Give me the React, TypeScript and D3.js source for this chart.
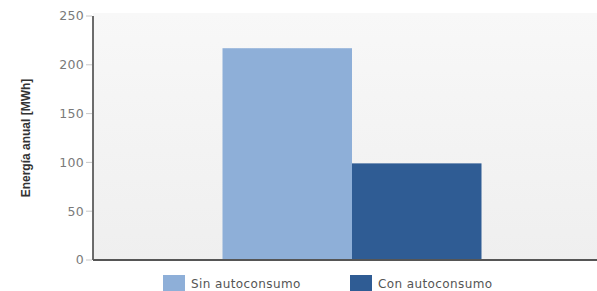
import { useRef, useEffect } from "react";
import * as d3 from "d3";

const categories = ["Energía"];
const seriesNames = ["Sin autoconsumo", "Con autoconsumo"];
const seriesValues = [217, 99];
const seriesColors = ["#8eafd8", "#2f5c94"];
const yTicks = [0, 50, 100, 150, 200, 250];

export default function App() {
  const ref = useRef<SVGSVGElement>(null);

  useEffect(() => {
    if (!ref.current) return;
    const svg = d3.select(ref.current);
    svg.selectAll("*").remove();

    const W = 597;
    const left = 93,
      right = 611,
      top = 16,
      bottom = 260;

    const y = d3.scaleLinear().domain([0, 250]).range([bottom, top]);
    const x0 = d3
      .scaleBand()
      .domain(categories)
      .range([left, right])
      .paddingInner(0)
      .paddingOuter(0.5);
    const x1 = d3
      .scaleBand()
      .domain(seriesNames)
      .range([0, x0.bandwidth()])
      .padding(0);

    const defs = svg.append("defs");
    const grad = defs
      .append("linearGradient")
      .attr("id", "plotbg")
      .attr("x1", 0)
      .attr("y1", 0)
      .attr("x2", 0)
      .attr("y2", 1);
    grad.append("stop").attr("offset", "0%").attr("stop-color", "#f8f8f8");
    grad.append("stop").attr("offset", "100%").attr("stop-color", "#efefef");

    svg
      .append("rect")
      .attr("x", left)
      .attr("y", top - 3)
      .attr("width", W - left)
      .attr("height", bottom - top + 3)
      .attr("fill", "url(#plotbg)");

    // bars
    const g = svg.append("g");
    categories.forEach((c) => {
      g.selectAll(null)
        .data(seriesNames)
        .join("rect")
        .attr("x", (s) => (x0(c) ?? 0) + (x1(s) ?? 0))
        .attr("y", (_, i) => y(seriesValues[i]))
        .attr("width", x1.bandwidth())
        .attr("height", (_, i) => bottom - y(seriesValues[i]))
        .attr("fill", (_, i) => seriesColors[i]);
    });

    // y axis
    const ay = svg.append("g");
    ay.selectAll("line.tick")
      .data(yTicks)
      .join("line")
      .attr("x1", left - 7)
      .attr("x2", left - 1)
      .attr("y1", (d) => y(d))
      .attr("y2", (d) => y(d))
      .attr("stroke", "#c8c8c8")
      .attr("stroke-width", 1);
    ay.selectAll("text")
      .data(yTicks)
      .join("text")
      .attr("x", left - 9)
      .attr("y", (d) => y(d))
      .attr("dy", "0.35em")
      .attr("text-anchor", "end")
      .attr("font-family", "DejaVu Sans, Verdana, sans-serif")
      .attr("font-size", 12.5)
      .attr("letter-spacing", 0.3)
      .attr("fill", "#7a7a7a")
      .text((d) => d);
    svg
      .append("line")
      .attr("x1", left)
      .attr("x2", left)
      .attr("y1", top)
      .attr("y2", bottom)
      .attr("stroke", "#3c3c3c")
      .attr("stroke-width", 1.5);
    svg
      .append("line")
      .attr("x1", left)
      .attr("x2", W)
      .attr("y1", bottom)
      .attr("y2", bottom)
      .attr("stroke", "#555")
      .attr("stroke-width", 2);

    svg
      .append("text")
      .attr("transform", `translate(30,138) rotate(-90)`)
      .attr("text-anchor", "middle")
      .attr("font-family", "Liberation Sans Narrow, Arial Narrow, Liberation Sans, sans-serif")
      .attr("font-stretch", "condensed")
      .attr("font-weight", 700)
      .attr("font-size", 12)
      .attr("fill", "#333")
      .text("Energía anual [MWh]");

    // legend
    const legX = [163, 350];
    const lg = svg.append("g");
    seriesNames.forEach((s, i) => {
      lg.append("rect")
        .attr("x", legX[i])
        .attr("y", 275)
        .attr("width", 22)
        .attr("height", 16)
        .attr("fill", seriesColors[i]);
      lg.append("text")
        .attr("x", legX[i] + 28)
        .attr("y", 284)
        .attr("dy", "0.35em")
        .attr("font-family", "DejaVu Sans, Verdana, sans-serif")
        .attr("font-size", 12)
        .attr("letter-spacing", 0.4)
        .attr("fill", "#555")
        .text(s);
    });
  }, []);

  return (
    <svg
      ref={ref}
      width={597}
      height={291}
      style={{ position: "absolute", left: 0, top: 0, display: "block", background: "#fff" }}
    />
  );
}
